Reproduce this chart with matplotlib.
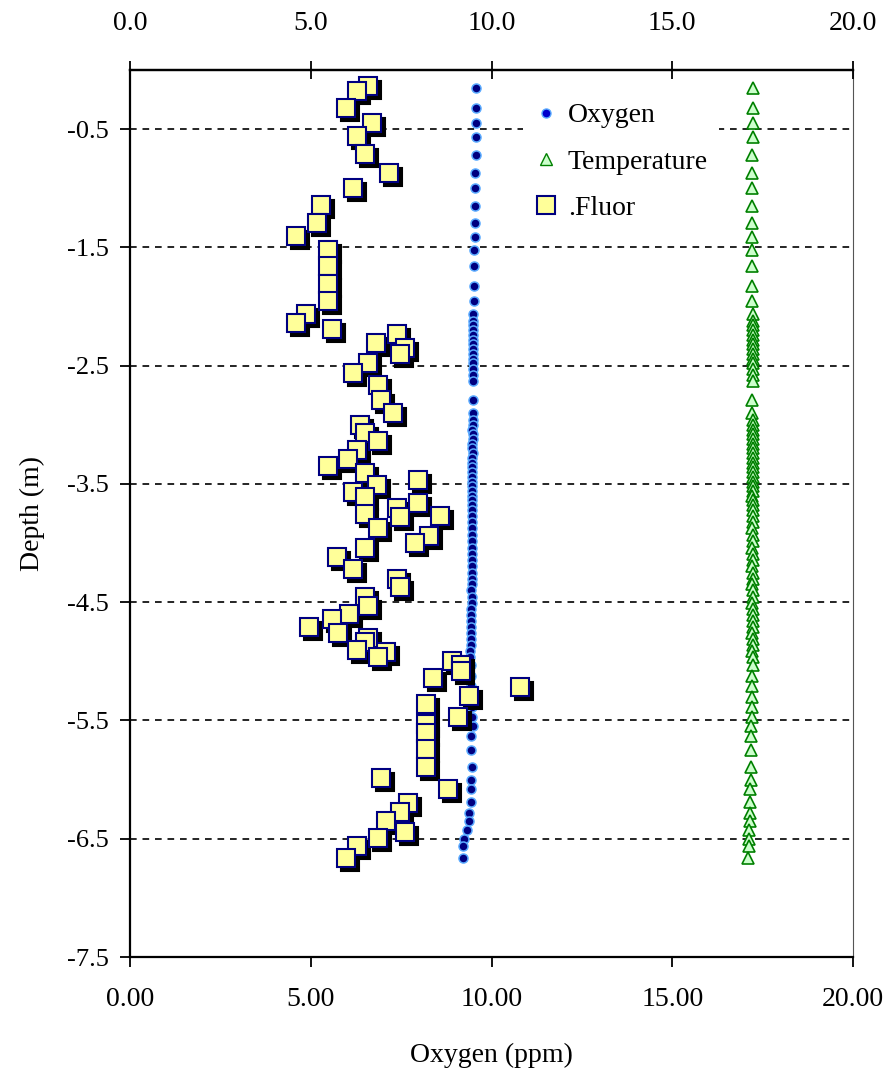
import matplotlib
matplotlib.use("Agg")
import matplotlib.pyplot as plt
import matplotlib.transforms as mtransforms
from matplotlib.lines import Line2D

plt.rcParams["font.family"] = ["Liberation Serif", "DejaVu Serif"]
plt.rcParams["font.size"] = 20

# profiler depths (m), shared by oxygen and temperature
depth = [-0.15, -0.32, -0.45, -0.57, -0.72, -0.87, -1.00, -1.15, -1.29, -1.41,
         -1.52, -1.66, -1.83, -1.95, -2.06,
         -2.12, -2.16, -2.20, -2.24, -2.28, -2.32, -2.36, -2.40, -2.44, -2.48,
         -2.53, -2.58, -2.63,
         -2.79, -2.90,
         -2.96, -3.00, -3.04, -3.08, -3.12, -3.16, -3.20, -3.24, -3.28, -3.32,
         -3.36, -3.40, -3.44, -3.48, -3.52, -3.56, -3.60, -3.64, -3.68, -3.72,
         -3.77, -3.82, -3.87, -3.93, -3.98, -4.04, -4.09, -4.14, -4.19, -4.25,
         -4.30, -4.35, -4.40, -4.46, -4.51, -4.56, -4.61, -4.66, -4.71, -4.76,
         -4.81, -4.86, -4.91, -4.96,
         -5.03, -5.12, -5.21, -5.30, -5.39,
         -5.47, -5.55, -5.63, -5.75, -5.89, -6.00, -6.08, -6.19, -6.28, -6.35,
         -6.43, -6.50, -6.56, -6.66]

oxygen = [9.57, 9.57, 9.56, 9.56, 9.56, 9.55, 9.55, 9.55, 9.54, 9.53,
          9.51, 9.52, 9.51, 9.51, 9.50,
          9.50, 9.50, 9.49, 9.50, 9.49, 9.49, 9.50, 9.49, 9.49, 9.48,
          9.49, 9.49, 9.48,
          9.50, 9.49,
          9.48, 9.48, 9.47, 9.48, 9.48, 9.47, 9.47, 9.48, 9.47, 9.47,
          9.47, 9.46, 9.47, 9.46, 9.46, 9.46, 9.47, 9.46, 9.45, 9.46,
          9.47, 9.47, 9.46, 9.46, 9.46, 9.45, 9.46, 9.46, 9.45, 9.45,
          9.45, 9.45, 9.44, 9.45, 9.45, 9.44, 9.44, 9.44, 9.43, 9.43,
          9.42, 9.42, 9.41, 9.41,
          9.42, 9.43, 9.44, 9.44, 9.45,
          9.45, 9.48, 9.43, 9.43, 9.45, 9.43, 9.43, 9.43, 9.38, 9.38,
          9.31, 9.25, 9.22, 9.20]

temperature = [17.22, 17.22, 17.22, 17.22, 17.21, 17.21, 17.21, 17.21, 17.21, 17.21,
               17.21, 17.21, 17.21, 17.21, 17.22,
               17.22, 17.23, 17.22, 17.23, 17.22, 17.23, 17.23, 17.22, 17.22, 17.22,
               17.22, 17.22, 17.22,
               17.21, 17.21,
               17.22, 17.23, 17.22, 17.22, 17.23, 17.22, 17.22, 17.23, 17.22, 17.22,
               17.23, 17.22, 17.22, 17.23, 17.22, 17.22, 17.21, 17.22, 17.22, 17.23,
               17.22, 17.22, 17.21, 17.22, 17.22, 17.21, 17.22, 17.22, 17.21, 17.22,
               17.22, 17.21, 17.22, 17.22, 17.21, 17.22, 17.22, 17.23, 17.22, 17.21,
               17.22, 17.22, 17.21, 17.22,
               17.22, 17.21, 17.21, 17.20, 17.20,
               17.20, 17.19, 17.19, 17.18, 17.17, 17.17, 17.16, 17.15, 17.14, 17.14,
               17.13, 17.13, 17.12, 17.10]

fluor = [6.59, 6.27, 5.97, 6.69, 6.29, 6.50, 7.16, 6.18, 5.27, 5.16,
         4.59, 5.49, 5.49, 5.49, 5.49, 4.87, 4.59, 5.58, 7.38, 6.80,
         7.61, 7.47, 6.59, 6.16, 6.85, 6.94, 7.27, 6.36, 6.50, 6.85,
         6.27, 6.04, 5.49, 6.50, 7.96, 6.82, 6.18, 6.50, 7.96, 7.39,
         6.50, 8.58, 7.47, 6.85, 8.27, 7.87, 6.50, 5.72, 6.16, 7.39,
         7.47, 6.50, 6.59, 6.07, 5.58, 4.95, 5.74, 6.59, 6.50, 6.29,
         7.08, 6.87, 8.90, 9.16, 9.16, 8.39, 10.79, 9.38, 8.18, 9.06,
         8.18, 8.18, 8.18, 8.18, 6.93, 8.81, 7.70, 7.47, 7.08, 7.61,
         6.85, 6.27, 5.97]
fluor_depth = [-0.135, -0.18, -0.32, -0.45, -0.56, -0.71, -0.87, -1.00, -1.14, -1.29,
               -1.40, -1.52, -1.66, -1.81, -1.95, -2.06, -2.14, -2.19, -2.23, -2.31,
               -2.35, -2.40, -2.48, -2.56, -2.66, -2.79, -2.90, -3.00, -3.07, -3.14,
               -3.21, -3.29, -3.35, -3.41, -3.47, -3.51, -3.57, -3.61, -3.66, -3.70,
               -3.75, -3.77, -3.78, -3.87, -3.94, -4.00, -4.04, -4.12, -4.22, -4.30,
               -4.37, -4.46, -4.53, -4.60, -4.64, -4.71, -4.76, -4.80, -4.84, -4.90,
               -4.92, -4.96, -5.00, -5.03, -5.08, -5.14, -5.22, -5.29, -5.36, -5.47,
               -5.53, -5.61, -5.74, -5.89, -5.99, -6.08, -6.20, -6.27, -6.35, -6.44,
               -6.49, -6.56, -6.66]

y_ticks = [-0.5, -1.5, -2.5, -3.5, -4.5, -5.5, -6.5, -7.5]
y_labels = ["-0.5", "-1.5", "-2.5", "-3.5", "-4.5", "-5.5", "-6.5", "-7.5"]
x_ticks = [0, 5, 10, 15, 20]
x_labels_bottom = ["0.00", "5.00", "10.00", "15.00", "20.00"]
x_labels_top = ["0.0", "5.0", "10.0", "15.0", "20.0"]

fig = plt.figure(figsize=(8.88, 10.78), dpi=100)
ax = fig.add_axes([130 / 888, 1 - 957 / 1078, 723 / 888, 887 / 1078])

ax.set_xlim(0, 20)
ax.set_ylim(-7.5, 0)

for yv in y_ticks[:-1]:
    ax.axhline(yv, color="black", lw=1.2, ls=(0, (4, 3.5)), zorder=1)

ax.plot(oxygen, depth, ls="none", marker="o", ms=6.5, mfc="#000080",
        mec="#5aaaff", mew=1.1, zorder=3)
ax.plot(temperature, depth, ls="none", marker="^", ms=9, mfc="#ccffcc",
        mec="#008000", mew=1.2, zorder=3)

shadow = mtransforms.offset_copy(ax.transData, fig=fig, x=4, y=-4, units="dots")
ax.plot(fluor, fluor_depth, ls="none", marker="s", ms=13.5, mfc="black",
        mec="black", mew=1.5, transform=shadow, zorder=4)
ax.plot(fluor, fluor_depth, ls="none", marker="s", ms=13.5, mfc="#ffff99",
        mec="#000080", mew=1.5, zorder=5)

handles = [
    Line2D([], [], ls="none", marker="o", ms=6.5, mfc="#0000cc", mec="#5aaaff"),
    Line2D([], [], ls="none", marker="^", ms=9, mfc="#ccffcc", mec="#008000"),
    Line2D([], [], ls="none", marker="s", ms=13.5, mfc="#ffff99", mec="#000080",
           mew=1.5),
]
lgd = ax.legend(handles, ["Oxygen", "Temperature", ".Fluor"],
                loc="upper left", bbox_to_anchor=(0.525, 0.991), frameon=True,
                fancybox=False, edgecolor="none", facecolor="white",
                framealpha=1, handlelength=0.8, handletextpad=0.4,
                labelspacing=0.75, borderpad=0.4, fontsize=20)
lgd.set_zorder(6)

ax.set_yticks(y_ticks)
ax.set_yticklabels(y_labels, fontsize=19)
ax.set_xticks(x_ticks)
ax.set_xticklabels(x_labels_bottom)
ax.tick_params(axis="y", direction="out", length=7, width=1.3, pad=8)
ax.tick_params(axis="x", direction="out", length=7.5, width=1.3, pad=14)

for s in ["left", "bottom", "top"]:
    ax.spines[s].set_linewidth(1.6)
ax.spines["right"].set_linewidth(0.8)
ax.spines["right"].set_color("#555555")

top = ax.twiny()
top.set_xlim(0, 20)
top.set_xticks(x_ticks)
top.set_xticklabels(x_labels_top)
top.tick_params(axis="x", direction="inout", length=13, width=1.3, pad=18)
top.spines["top"].set_linewidth(1.6)
top.spines["right"].set_visible(False)
top.spines["left"].set_visible(False)
top.spines["bottom"].set_visible(False)

ax.set_xlabel("Oxygen (ppm)", fontsize=20, labelpad=22)
ax.set_ylabel("Depth (m)", fontsize=20, labelpad=16)

fig.savefig("out.png", dpi=100)
